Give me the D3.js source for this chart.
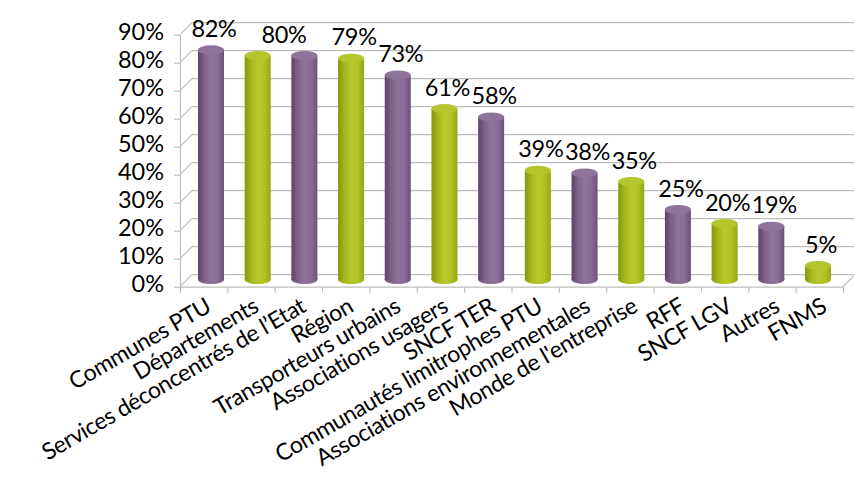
<!DOCTYPE html>
<html>
<head>
<meta charset="utf-8">
<script src="https://cdn.jsdelivr.net/npm/d3@7"></script>
<style>
  html, body { margin: 0; padding: 0; background: #fff; }
  svg { display: block; }
  text { font-family: Lato, "Open Sans", sans-serif; fill: #000; }
</style>
</head>
<body>
<svg id="chart" width="854" height="477"></svg>
<script>
// Acteurs associés (part des répondants)
const categories = [
  "Communes PTU", "Départements", "Services déconcentrés de l’Etat", "Région",
  "Transporteurs urbains", "Associations usagers", "SNCF TER",
  "Communautés limitrophes PTU", "Associations environnementales",
  "Monde de l'entreprise", "RFF", "SNCF LGV", "Autres", "FNMS"
];
const values = [82, 80, 80, 79, 73, 61, 58, 39, 38, 35, 25, 20, 19, 5];
const yTicks = [0, 10, 20, 30, 40, 50, 60, 70, 80, 90];

const svg = d3.select("#chart");
const fontSize = 23.5;
const catFontSize = 23;

// 3D box: front plane, back wall, and the plane through the cylinders' axes
const depth = { dx: 12, dy: -12 };
const xEdge = d3.scaleLinear().domain([0, categories.length]).range([180, 843]);
const xBand = d3.scaleBand().domain(categories).range([180, 843]);
const xBar = d3.scalePoint().domain(categories).range([211, 818]);
const yFront = d3.scaleLinear().domain([0, 90]).range([286.7, 34.7]);
const yBack = d3.scaleLinear().domain([0, 90]).range([286.7 + depth.dy, 34.7 + depth.dy]);
const yMid = d3.scaleLinear().domain([0, 90]).range([279.5, 27.5]);

const grid = "#bdbdbd";

// back-wall gridlines and side-wall diagonals
const walls = svg.append("g");
walls.selectAll("line.grid").data(yTicks).join("line")
  .attr("x1", 180 + depth.dx).attr("x2", 854)
  .attr("y1", d => yBack(d)).attr("y2", d => yBack(d))
  .attr("stroke", grid).attr("stroke-width", 1.2);
walls.selectAll("line.side").data(yTicks).join("line")
  .attr("x1", 180).attr("y1", d => yFront(d))
  .attr("x2", 180 + depth.dx).attr("y2", d => yBack(d))
  .attr("stroke", grid).attr("stroke-width", 1.2);
walls.append("line")
  .attr("x1", xEdge(categories.length)).attr("y1", yFront(0))
  .attr("x2", xEdge(categories.length) + depth.dx).attr("y2", yBack(0))
  .attr("stroke", grid).attr("stroke-width", 1.2);

// value axis
svg.append("g")
  .attr("transform", "translate(180,0)")
  .call(d3.axisLeft(yFront).tickValues(yTicks).tickFormat(d => d + "%")
    .tickSize(6).tickSizeOuter(0).tickPadding(10))
  .call(g => g.selectAll("line, path").attr("stroke", grid).attr("stroke-width", 1.2))
  .call(g => g.selectAll("text").attr("font-size", fontSize).attr("dy", "0.22em")
    .style("font-family", "Lato, sans-serif"));

// category axis: tick marks between categories
svg.append("g")
  .attr("transform", `translate(0,${yFront(0)})`)
  .call(d3.axisBottom(xEdge).ticks(categories.length).tickFormat("")
    .tickSize(6).tickSizeOuter(0))
  .call(g => g.selectAll("line, path").attr("stroke", grid).attr("stroke-width", 1.2));

// category labels, rotated
svg.append("g")
  .attr("transform", `translate(0,${yFront(0)})`)
  .call(d3.axisBottom(xBand).tickSize(0))
  .call(g => g.select(".domain").remove())
  .call(g => g.selectAll("text")
    .attr("font-size", catFontSize)
    .style("font-family", "Lato, sans-serif")
    .style("letter-spacing", "-0.4px")
    .attr("text-anchor", "end")
    .attr("x", 9).attr("y", 24).attr("dy", 0)
    .attr("transform", "rotate(-30, 9, 24)"));

// cylinder shading
const defs = svg.append("defs");
const palettes = [
  { id: "purple", stops: ["#5c4268", "#7d6189", "#8f739b", "#8a6d97", "#6b5078"], top: "#8e739a", base: "#8a6f96" },
  { id: "green", stops: ["#849709", "#a4b61c", "#b8c92b", "#b2c326", "#94a612"], top: "#b4c52e", base: "#aabc22" }
];
palettes.forEach(p => {
  const lg = defs.append("linearGradient").attr("id", "body-" + p.id)
    .attr("x1", "0%").attr("x2", "100%").attr("y1", "0%").attr("y2", "0%");
  p.stops.forEach((c, i) => lg.append("stop")
    .attr("offset", (i / (p.stops.length - 1) * 100) + "%").attr("stop-color", c));
});

const rx = 13, ry = 4.6;
const bars = svg.append("g").selectAll("g").data(categories).join("g");
bars.each(function(cat, i) {
  const g = d3.select(this);
  const p = palettes[i % 2];
  const cx = xBar(cat);
  const yTop = yMid(values[i]);
  const yBase = yMid(0);
  g.append("ellipse").attr("cx", cx).attr("cy", yBase).attr("rx", rx).attr("ry", ry)
    .attr("fill", `url(#body-${p.id})`);
  g.append("rect").attr("x", cx - rx).attr("y", yTop).attr("width", 2 * rx)
    .attr("height", yBase - yTop).attr("fill", `url(#body-${p.id})`);
  g.append("path")
    .attr("d", `M${cx - rx},${yBase - 1} A${rx},${ry} 0 0 0 ${cx + rx},${yBase - 1}`)
    .attr("fill", "none").attr("stroke", p.base).attr("stroke-opacity", 0.6).attr("stroke-width", 1);
  g.append("ellipse").attr("cx", cx).attr("cy", yTop).attr("rx", rx).attr("ry", ry)
    .attr("fill", p.top);
});

// value labels: neighbouring cylinders of equal value share one label
const groups = [];
values.forEach((v, i) => {
  const last = groups[groups.length - 1];
  if (last && last.value === v) last.xs.push(xBar(categories[i]));
  else groups.push({ value: v, xs: [xBar(categories[i])] });
});
svg.append("g").selectAll("text").data(groups).join("text")
  .attr("x", d => d3.mean(d.xs) + 3)
  .attr("y", d => yMid(d.value) - 13)
  .attr("text-anchor", "middle")
  .attr("font-size", fontSize)
  .style("letter-spacing", "-0.3px")
  .text(d => d.value + "%");
</script>
</body>
</html>
